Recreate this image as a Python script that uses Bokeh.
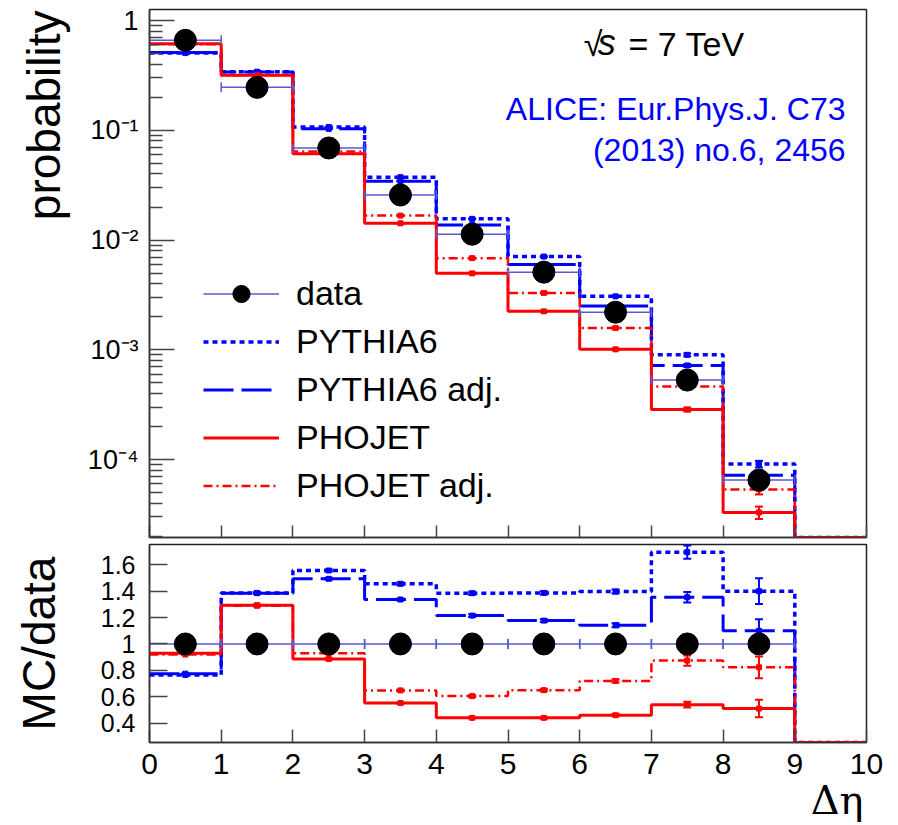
import math
from bokeh.plotting import figure
from bokeh.layouts import column
from bokeh.models import (Range1d, FixedTicker, CustomJSTickFormatter, Label,
                          Legend, LegendItem, Whisker, ColumnDataSource, TeeHead,
                          CustomLabelingPolicy, Title)
from bokeh.embed import file_html
from bokeh.resources import INLINE

# ---------------- data ----------------
BIN_EDGES = [0, 1, 2, 3, 4, 5, 6, 7, 8, 9, 10]

DATA_PROB = [0.66, 0.246, 0.069, 0.0257, 0.0113, 0.0051, 0.0022, 0.00053, 6.5e-5]
PYTHIA6_PROB = [0.505, 0.341, 0.107, 0.0374, 0.0156, 0.00707, 0.00307, 0.00090, 9.1e-5, 0]
PYTHIA6_ADJ_PROB = [0.51, 0.340, 0.103, 0.0344, 0.0137, 0.0060, 0.00251, 0.00072, 7.2e-5, 0]
PHOJET_PROB = [0.614, 0.318, 0.061, 0.0142, 0.00497, 0.00224, 0.00101, 0.000286, 3.3e-5, 0]
PHOJET_ADJ_PROB = [0.607, 0.317, 0.064, 0.0167, 0.00684, 0.0033, 0.00158, 0.000463, 5.35e-5, 0]

DATA_RATIO = [1, 1, 1, 1, 1, 1, 1, 1, 1]
PYTHIA6_RATIO = [0.765, 1.387, 1.557, 1.456, 1.385, 1.387, 1.397, 1.696, 1.40, 0]
PYTHIA6_ADJ_RATIO = [0.775, 1.385, 1.494, 1.337, 1.215, 1.177, 1.142, 1.354, 1.10, 0]
PHOJET_RATIO = [0.93, 1.294, 0.886, 0.552, 0.44, 0.44, 0.46, 0.54, 0.51, 0]
PHOJET_ADJ_RATIO = [0.92, 1.29, 0.93, 0.648, 0.605, 0.65, 0.72, 0.874, 0.823, 0]

# relative statistical uncertainties of the MC histograms
PYTHIA6_RELERR = [0.004, 0.004, 0.005, 0.007, 0.008, 0.009, 0.011, 0.03, 0.07, 0]
PYTHIA6_ADJ_RELERR = [0.004, 0.004, 0.005, 0.006, 0.008, 0.009, 0.013, 0.03, 0.08, 0]
PHOJET_RELERR = [0.004, 0.004, 0.006, 0.009, 0.012, 0.014, 0.018, 0.04, 0.13, 0]
PHOJET_ADJ_RELERR = [0.004, 0.004, 0.006, 0.009, 0.011, 0.013, 0.017, 0.045, 0.10, 0]

SERIES_NAMES = ["PYTHIA6", "PYTHIA6 adj.", "PHOJET", "PHOJET adj."]
TOP_TICKS = [1e-4, 1e-3, 1e-2, 1e-1, 1]
RATIO_TICKS = [0.4, 0.6, 0.8, 1.0, 1.2, 1.4, 1.6]
X_TICKS = [0, 1, 2, 3, 4, 5, 6, 7, 8, 9, 10]

TOP_RANGE = (1.95e-5, 1.26)
RATIO_RANGE = (0.253, 1.754)
X_RANGE = (0, 10)

STYLES = {
    "PYTHIA6": dict(color="#0000ff", dash="5 4", width=3.5),
    "PYTHIA6 adj.": dict(color="#0000ff", dash="30 8", width=3),
    "PHOJET": dict(color="#ff0000", dash="solid", width=3),
    "PHOJET adj.": dict(color="#ff0000", dash="9 4 2 4", width=2.5),
}
DATA_LINE = "#5a5ad2"
FONT = "Liberation Sans"

CENTERS = [(a + b) / 2 for a, b in zip(BIN_EDGES[:-1], BIN_EDGES[1:])]


def style_axes(p):
    p.grid.visible = False
    p.outline_line_color = "#222222"
    p.outline_line_width = 1.5
    p.background_fill_color = "white"
    p.border_fill_color = "white"
    for ax in p.axis:
        ax.axis_line_color = "#333333"
        ax.axis_line_width = 1.5
        ax.major_tick_line_color = "#444444"
        ax.major_tick_line_width = 1.5
        ax.minor_tick_line_color = "#444444"
        ax.minor_tick_line_width = 1.5
        ax.major_tick_out = 0
        ax.minor_tick_out = 0
        ax.major_label_text_font = FONT
        ax.major_label_text_color = "black"
        ax.axis_label_text_font = FONT
        ax.axis_label_text_font_style = "normal"
        ax.axis_label_text_color = "black"


def draw_hist(p, vals, relerr, ymin, st):
    ys = [max(v, ymin) for v in vals] + [max(vals[-1], ymin)]
    r = p.step(BIN_EDGES, ys, mode="after", line_color=st["color"],
               line_width=st["width"], line_dash=st["dash"])
    xs = [c for c, v in zip(CENTERS, vals) if v > 0]
    vv = [v for v in vals if v > 0]
    ee = [e for e, v in zip(relerr, vals) if v > 0]
    src = ColumnDataSource(dict(x=xs, y=vv,
                                up=[v * (1 + e) for v, e in zip(vv, ee)],
                                lo=[v * (1 - e) for v, e in zip(vv, ee)]))
    p.scatter("x", "y", source=src, marker="square", size=5,
              color=st["color"])
    w = Whisker(source=src, base="x", upper="up", lower="lo",
                dimension="height", line_color=st["color"], line_width=2,
                upper_head=TeeHead(size=8, line_color=st["color"], line_width=2),
                lower_head=TeeHead(size=8, line_color=st["color"], line_width=2))
    p.add_layout(w)
    return r


def draw_data(p, vals):
    n = len(vals)
    lo = BIN_EDGES[:n]
    hi = BIN_EDGES[1:n + 1]
    seg = p.segment(x0=lo, x1=hi, y0=vals, y1=vals, line_color=DATA_LINE,
                    line_width=1.5)
    p.scatter(x=lo + hi, y=vals + vals, marker="dash", angle=math.pi / 2,
              size=10, line_color=DATA_LINE, line_width=1.5)
    dots = p.scatter(x=CENTERS[:n], y=vals, marker="circle", size=22,
                     color="black")
    return seg, dots


# ---------------- top panel ----------------
p1 = figure(width=898, height=541, x_range=Range1d(*X_RANGE),
            y_range=Range1d(*TOP_RANGE), y_axis_type="log",
            output_backend="svg", toolbar_location=None,
            min_border_left=148, min_border_right=32, min_border_top=9,
            min_border_bottom=3)
style_axes(p1)
minor = [m * 10.0 ** k for k in range(-5, 1) for m in range(2, 10)]
p1.yaxis.ticker = FixedTicker(ticks=TOP_TICKS, minor_ticks=minor)
p1.yaxis.formatter = CustomJSTickFormatter(code="""
const e = Math.round(Math.log10(tick));
if (e === 0) { return "1"; }
const sup = {"-": "\u207b", "0": "\u2070", "1": "\u00b9", "2": "\u00b2",
             "3": "\u00b3", "4": "\u2074", "5": "\u2075"};
return "10" + String(e).split("").map(c => sup[c]).join("");
""")
p1.yaxis.major_tick_in = 25
p1.yaxis.minor_tick_in = 13
p1.yaxis.major_label_text_font_size = "27px"
p1.yaxis.major_label_standoff = 11
p1.xaxis.ticker = FixedTicker(ticks=X_TICKS, minor_ticks=[])
p1.xaxis.major_tick_in = 12
p1.xaxis.major_label_text_font_size = "1px"
p1.xaxis.major_label_standoff = 0
p1.xaxis.major_label_policy = CustomLabelingPolicy(code="""
const all = [...indices];
for (const i of all) { indices.unset(i); }
return indices;
""")
p1.add_layout(Title(text="probability", align="right", vertical_align="bottom",
                    text_font=FONT, text_font_style="normal",
                    text_font_size="46px", text_color="black",
                    standoff=30, offset=1), "left")

prob_series = [PYTHIA6_PROB, PYTHIA6_ADJ_PROB, PHOJET_PROB, PHOJET_ADJ_PROB]
errs = [PYTHIA6_RELERR, PYTHIA6_ADJ_RELERR, PHOJET_RELERR, PHOJET_ADJ_RELERR]
hist_r = []
for name, vals, e in zip(SERIES_NAMES, prob_series, errs):
    hist_r.append(draw_hist(p1, vals, e, TOP_RANGE[0], STYLES[name]))
seg1, dots1 = draw_data(p1, DATA_PROB)

legend = Legend(items=[LegendItem(label="data", renderers=[seg1, dots1])] +
                [LegendItem(label=n, renderers=[r]) for n, r in zip(SERIES_NAMES, hist_r)],
                location=(54, 30), glyph_width=76, glyph_height=43,
                label_height=43, spacing=5, padding=0, margin=0,
                border_line_alpha=0, background_fill_alpha=0,
                label_text_font_size="34px", label_text_font=FONT,
                label_text_color="black",
                label_standoff=17, label_text_baseline="middle")
p1.add_layout(legend)

p1.add_layout(Label(x=6.058, y=0.407, text="\u221a", text_font=FONT,
                    text_font_size="34px", text_color="black"))
p1.add_layout(Label(x=6.25, y=0.407, text="s", text_font=FONT,
                    text_font_style="italic",
                    text_font_size="36px", text_color="black"))
p1.add_layout(Label(x=6.68, y=0.407, text="= 7 TeV", text_font=FONT,
                    text_font_size="34px", text_color="black"))
p1.add_layout(Label(x=9.708, y=0.1065, text="ALICE: Eur.Phys.J. C73",
                    text_align="right", text_font=FONT, text_font_size="32px",
                    text_color="#0000ff"))
p1.add_layout(Label(x=9.708, y=0.0451, text="(2013) no.6, 2456",
                    text_align="right", text_font=FONT, text_font_size="32px",
                    text_color="#0000ff"))

# ---------------- ratio panel ----------------
p2 = figure(width=898, height=284, x_range=Range1d(*X_RANGE),
            y_range=Range1d(*RATIO_RANGE), output_backend="svg",
            toolbar_location=None, min_border_left=148, min_border_right=32,
            min_border_top=3, min_border_bottom=83)
style_axes(p2)
p2.yaxis.ticker = FixedTicker(ticks=RATIO_TICKS, minor_ticks=[])
p2.yaxis.formatter = CustomJSTickFormatter(code="return String(Math.round(tick * 10) / 10);")
p2.yaxis.major_tick_in = 18
p2.yaxis.major_label_text_font_size = "25px"
p2.yaxis.major_label_standoff = 14
p2.yaxis.axis_label = "MC/data"
p2.yaxis.axis_label_text_font_size = "46px"
p2.yaxis.axis_label_standoff = 33
p2.xaxis.ticker = FixedTicker(ticks=X_TICKS, minor_ticks=[])
p2.xaxis.major_tick_in = 13
p2.xaxis.major_label_text_font_size = "30px"
p2.xaxis.major_label_standoff = 11
p2.add_layout(Title(text="\u0394\u03b7", align="right", vertical_align="top",
                    text_font="DejaVu Serif", text_font_style="normal",
                    text_font_size="40px", text_color="black",
                    standoff=0, offset=3), "below")

ratio_series = [PYTHIA6_RATIO, PYTHIA6_ADJ_RATIO, PHOJET_RATIO, PHOJET_ADJ_RATIO]
for name, vals, e in zip(SERIES_NAMES, ratio_series, errs):
    draw_hist(p2, vals, e, RATIO_RANGE[0], STYLES[name])
draw_data(p2, DATA_RATIO)

layout = column(p1, p2, spacing=0)
open("out.html", "w", encoding="utf-8").write(file_html(layout, INLINE))
